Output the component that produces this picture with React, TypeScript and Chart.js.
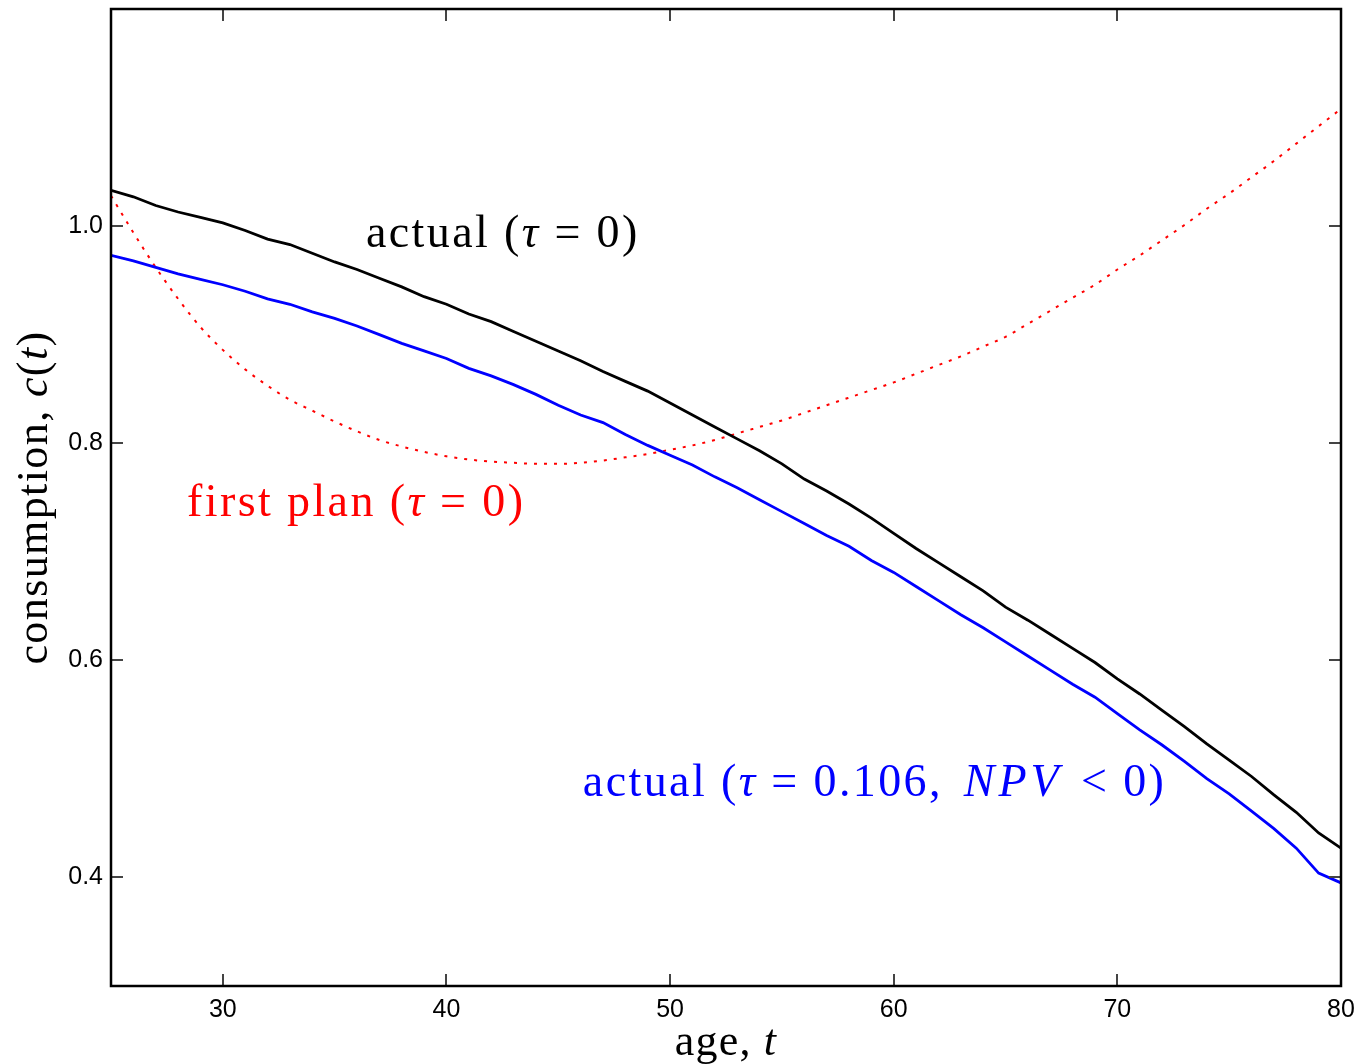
import React, { useEffect, useRef } from "react";
import { Chart, registerables } from "chart.js";

Chart.register(...registerables);

const ages = [
  25, 26, 27, 28, 29, 30, 31, 32, 33, 34, 35, 36, 37, 38, 39, 40, 41, 42, 43, 44,
  45, 46, 47, 48, 49, 50, 51, 52, 53, 54, 55, 56, 57, 58, 59, 60, 61, 62, 63, 64,
  65, 66, 67, 68, 69, 70, 71, 72, 73, 74, 75, 76, 77, 78, 79, 80,
];

const actualNoTax = [
  1.033, 1.027, 1.019, 1.013, 1.008, 1.003, 0.996, 0.988, 0.983, 0.975, 0.967,
  0.96, 0.952, 0.944, 0.935, 0.928, 0.919, 0.912, 0.903, 0.894, 0.885, 0.876,
  0.866, 0.857, 0.848, 0.837, 0.826, 0.815, 0.804, 0.793, 0.781, 0.767, 0.756,
  0.744, 0.731, 0.717, 0.703, 0.69, 0.677, 0.664, 0.649, 0.637, 0.624, 0.611,
  0.598, 0.583, 0.569, 0.554, 0.539, 0.523, 0.508, 0.493, 0.476, 0.46, 0.441,
  0.427,
];

const actualTax = [
  0.973, 0.968, 0.962, 0.956, 0.951, 0.946, 0.94, 0.933, 0.928, 0.921, 0.915,
  0.908, 0.9, 0.892, 0.885, 0.878, 0.869, 0.862, 0.854, 0.845, 0.835, 0.826,
  0.819, 0.808, 0.798, 0.789, 0.78, 0.769, 0.759, 0.748, 0.737, 0.726, 0.715,
  0.705, 0.692, 0.681, 0.668, 0.655, 0.642, 0.63, 0.617, 0.604, 0.591, 0.578,
  0.566, 0.551, 0.536, 0.522, 0.507, 0.491, 0.477, 0.461, 0.445, 0.427, 0.404,
  0.395,
];

const firstPlan = [
  1.028, 0.994, 0.962, 0.933, 0.907, 0.886, 0.868, 0.853, 0.84, 0.83, 0.82,
  0.811, 0.803, 0.797, 0.792, 0.788, 0.785, 0.783, 0.782, 0.781, 0.781, 0.782,
  0.784, 0.787, 0.79, 0.794, 0.798, 0.803, 0.809, 0.815, 0.821, 0.828, 0.835,
  0.842, 0.849, 0.856, 0.864, 0.872, 0.88, 0.889, 0.898, 0.91, 0.922, 0.934,
  0.946, 0.96, 0.973, 0.987, 1.001, 1.016, 1.03, 1.045, 1.06, 1.076, 1.092,
  1.108,
];

const xTicks = [30, 40, 50, 60, 70, 80];
const yTicks = [0.4, 0.6, 0.8, 1.0];

type Run = { t: string; it?: boolean; gap?: number; ls?: number };

const xTitle: Run[] = [{ t: "age, " }, { t: "t", it: true }];
const yTitle: Run[] = [{ t: "consumption, " }, { t: "c", it: true }, { t: "(" }, { t: "t", it: true }, { t: ")" }];

const labelBlack: Run[] = [
  { t: "actual (" },
  { t: "τ", it: true },
  { t: "=", gap: 0.3 },
  { t: "0)", gap: 0.3 },
];
const labelRed: Run[] = [
  { t: "first plan (" },
  { t: "τ", it: true },
  { t: "=", gap: 0.3 },
  { t: "0)", gap: 0.3 },
];
const labelBlue: Run[] = [
  { t: "actual (" },
  { t: "τ", it: true },
  { t: "=", gap: 0.3 },
  { t: "0.106, ", gap: 0.3 },
  { t: "NPV", it: true, gap: 0.15, ls: 4 },
  { t: "<", gap: 0.4 },
  { t: "0)", gap: 0.3 },
];

// annotation anchors in data units: [age, consumption] of left baseline
const annotations = [
  { runs: labelBlack, age: 36.4, val: 0.981, color: "#000000" },
  { runs: labelRed, age: 28.4, val: 0.733, color: "#ff0000" },
  { runs: labelBlue, age: 46.1, val: 0.475, color: "#0000ff" },
];

const SERIF = '"Liberation Serif", "Times New Roman", serif';

function drawRuns(
  ctx: CanvasRenderingContext2D,
  runs: Run[],
  x: number,
  y: number,
  size: number,
  spacing: number,
  color: string,
  align: "left" | "center"
) {
  ctx.save();
  ctx.fillStyle = color;
  ctx.textBaseline = "alphabetic";
  ctx.textAlign = "left";
  const setup = (r: Run) => {
    ctx.font = `${r.it ? "italic " : ""}${size}px ${SERIF}`;
    (ctx as any).letterSpacing = `${r.ls ?? spacing}px`;
  };
  let total = 0;
  for (const r of runs) {
    setup(r);
    total += (r.gap || 0) * size + ctx.measureText(r.t).width;
  }
  let cx = align === "center" ? x - total / 2 : x;
  for (const r of runs) {
    setup(r);
    cx += (r.gap || 0) * size;
    ctx.fillText(r.t, cx, y);
    cx += ctx.measureText(r.t).width;
  }
  ctx.restore();
}

const framePlugin = {
  id: "framePlugin",
  afterDatasetsDraw(chart: any) {
    const ctx: CanvasRenderingContext2D = chart.ctx;
    const xs = chart.scales.x;
    const ys = chart.scales.y;
    for (const a of annotations) {
      drawRuns(ctx, a.runs, xs.getPixelForValue(a.age), ys.getPixelForValue(a.val), 46, 2.4, a.color, "left");
    }
  },
  afterDraw(chart: any) {
    const ctx: CanvasRenderingContext2D = chart.ctx;
    const { left, right, top, bottom } = chart.chartArea;
    const xs = chart.scales.x;
    const ys = chart.scales.y;
    const TL = 12;
    ctx.save();
    ctx.strokeStyle = "#444444";
    ctx.lineWidth = 2;
    ctx.beginPath();
    for (const v of xTicks) {
      const px = Math.round(xs.getPixelForValue(v));
      ctx.moveTo(px, bottom);
      ctx.lineTo(px, bottom - TL);
      ctx.moveTo(px, top);
      ctx.lineTo(px, top + TL);
    }
    for (const v of yTicks) {
      const py = Math.round(ys.getPixelForValue(v));
      ctx.moveTo(left, py);
      ctx.lineTo(left + TL, py);
      ctx.moveTo(right, py);
      ctx.lineTo(right - TL, py);
    }
    ctx.stroke();
    ctx.strokeStyle = "#000000";
    ctx.lineWidth = 2.5;
    ctx.strokeRect(left, top, right - left, bottom - top);
    ctx.restore();

    // axis titles
    drawRuns(ctx, xTitle, (left + right) / 2, chart.height - 9, 44, 1.2, "#000000", "center");
    ctx.save();
    ctx.translate(47, (top + bottom) / 2);
    ctx.rotate(-Math.PI / 2);
    drawRuns(ctx, yTitle, 0, 0, 44, 1.4, "#000000", "center");
    ctx.restore();
  },
};

function noPad(s: any) {
  s.paddingTop = 0;
  s.paddingBottom = 0;
  s.paddingLeft = 0;
  s.paddingRight = 0;
}

export default function App() {
  const ref = useRef<HTMLCanvasElement | null>(null);

  useEffect(() => {
    if (!ref.current) return;
    const chart = new Chart(ref.current, {
      type: "line",
      data: {
        datasets: [
          {
            label: "actual (τ = 0)",
            data: ages.map((a, i) => ({ x: a, y: actualNoTax[i] })),
            borderColor: "#000000",
            borderWidth: 2.8,
            pointRadius: 0,
            tension: 0,
          },
          {
            label: "actual (τ = 0.106, NPV < 0)",
            data: ages.map((a, i) => ({ x: a, y: actualTax[i] })),
            borderColor: "#0000ff",
            borderWidth: 2.8,
            pointRadius: 0,
            tension: 0,
          },
          {
            label: "first plan (τ = 0)",
            data: ages.map((a, i) => ({ x: a, y: firstPlan[i] })),
            borderColor: "#ff0000",
            borderWidth: 2,
            borderDash: [3, 7],
            pointRadius: 0,
            cubicInterpolationMode: "monotone",
          },
        ],
      },
      options: {
        responsive: false,
        animation: false,
        layout: { padding: { top: 9, right: 19, left: 0, bottom: 0 } },
        plugins: {
          legend: { display: false },
          tooltip: { enabled: false },
        },
        scales: {
          x: {
            type: "linear",
            min: 25,
            max: 80,
            grid: { display: false, drawTicks: false },
            border: { display: false },
            afterBuildTicks: (s: any) => {
              s.ticks = xTicks.map((v) => ({ value: v }));
            },
            afterFit: (s: any) => {
              s.height = 78;
              noPad(s);
            },
            ticks: {
              padding: 9,
              color: "#000000",
              maxRotation: 0,
              font: { family: '"Liberation Sans", Arial, sans-serif', size: 25 },
              callback: (v: any) => String(v),
            },
          },
          y: {
            type: "linear",
            min: 0.3,
            max: 1.2,
            grid: { display: false, drawTicks: false },
            border: { display: false },
            afterBuildTicks: (s: any) => {
              s.ticks = yTicks.map((v) => ({ value: v }));
            },
            afterFit: (s: any) => {
              s.width = 111;
              noPad(s);
            },
            ticks: {
              padding: 8,
              color: "#000000",
              font: { family: '"Liberation Sans", Arial, sans-serif', size: 25 },
              callback: (v: any) => Number(v).toFixed(1),
            },
          },
        },
      },
      plugins: [framePlugin],
    });
    return () => chart.destroy();
  }, []);

  return (
    <div style={{ position: "absolute", left: 0, top: 0, width: 1360, height: 1064, background: "#ffffff" }}>
      <canvas ref={ref} width={1360} height={1064} style={{ display: "block" }} />
    </div>
  );
}
